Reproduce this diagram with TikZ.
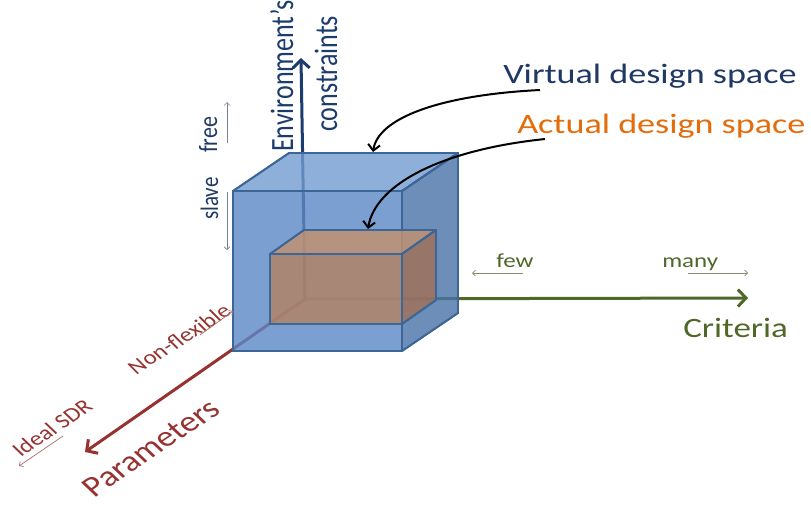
\documentclass[tikz,border=0pt]{standalone}
\usepackage{fontspec}
\setmainfont{Carlito}
\usetikzlibrary{arrows.meta}

\definecolor{navy}{RGB}{31,56,100}
\definecolor{axisblue}{RGB}{28,60,110}
\definecolor{axisgreen}{RGB}{79,104,40}
\definecolor{axisred}{RGB}{150,50,48}
\definecolor{actualorange}{RGB}{228,108,10}
\definecolor{boxedge}{RGB}{60,102,150}
\definecolor{outerfront}{RGB}{92,136,199}
\definecolor{outertop}{RGB}{115,156,211}
\definecolor{outerside}{RGB}{74,114,169}
\definecolor{innerfront}{RGB}{181,129,97}
\definecolor{innertop}{RGB}{196,145,107}
\definecolor{innerside}{RGB}{162,112,85}
\definecolor{hintblue}{RGB}{120,130,150}
\definecolor{hintred}{RGB}{170,110,100}
\definecolor{hintgreen}{RGB}{130,140,110}

\tikzset{
  axisline/.style={line width=3pt, -{Straight Barb[length=8pt,width=17pt]}},
  pointer/.style={line width=2pt, black, -{Straight Barb[length=6pt,width=12pt]}},
  hint/.style={line width=0.7pt, -{Straight Barb[length=3pt,width=6pt]}},
  face/.style={draw=boxedge, line width=1.8pt, line join=round, fill opacity=0.8},
  lbl/.style={inner sep=0pt},
}

\begin{document}
\begin{tikzpicture}[x=1pt,y=-1pt]
\useasboundingbox (0,0) rectangle (811,504);
\fill[white] (0,0) rectangle (811,504);

% axis end points
\coordinate (O) at (305,299);
\coordinate (Ztip) at (301,58);
\coordinate (Xtip) at (748,298);
\coordinate (Ptip) at (85,452);

% the three axes
\draw[axisline, axisblue] (O) -- (Ztip);
\draw[axisline, axisgreen] (O) -- (Xtip);
\draw[axisline, axisred] (O) -- (Ptip);

% virtual design space (outer box)
\fill[face, fill=outertop]  (233,191) -- (289,153) -- (458,153) -- (402,191) -- cycle;
\draw[boxedge, line width=1.8pt, line join=round] (233,191) -- (289,153) -- (458,153) -- (402,191) -- cycle;
\fill[face, fill=outerside] (402,191) -- (458,153) -- (458,313) -- (402,351) -- cycle;
\draw[boxedge, line width=1.8pt, line join=round] (402,191) -- (458,153) -- (458,313) -- (402,351) -- cycle;
\fill[face, fill=outerfront] (233,191) rectangle (402,351);
\draw[boxedge, line width=1.8pt] (233,191) rectangle (402,351);

% actual design space (inner box)
\fill[face, fill=innertop]  (270,254) -- (304,230) -- (436,230) -- (402,254) -- cycle;
\draw[boxedge, line width=1.8pt, line join=round] (270,254) -- (304,230) -- (436,230) -- (402,254) -- cycle;
\fill[face, fill=innerside] (402,254) -- (436,230) -- (436,300) -- (402,324) -- cycle;
\draw[boxedge, line width=1.8pt, line join=round] (402,254) -- (436,230) -- (436,300) -- (402,324) -- cycle;
\fill[face, fill=innerfront] (270,254) rectangle (402,324);
\draw[boxedge, line width=1.8pt] (270,254) rectangle (402,324);

% titles
\node[lbl, anchor=base west, text=navy, font=\fontsize{28}{34}\selectfont, xscale=1.29]
  (virtual) at (503,83) {Virtual design space};
\node[lbl, anchor=base west, text=actualorange, font=\fontsize{28}{34}\selectfont, xscale=1.29]
  (actual) at (517,133) {Actual design space};

% pointers to the two boxes
\coordinate (vstart) at (540,90);
\coordinate (vend) at (373,152);
\coordinate (astart) at (545,139);
\coordinate (aend) at (368,229);
\draw[pointer] (vstart) .. controls (440,95) and (378,118) .. (vend);
\draw[pointer] (astart) .. controls (440,150) and (375,185) .. (aend);

% axis names
\node[lbl, anchor=base west, text=axisblue, font=\fontsize{26}{30}\selectfont, xscale=1.25, rotate=90]
  (env1) at (293,152) {Environment’s};
\node[lbl, anchor=base west, text=axisblue, font=\fontsize{26}{30}\selectfont, xscale=1.25, rotate=90]
  (env2) at (337,132) {constraints};
\node[lbl, anchor=base west, text=axisgreen, font=\fontsize{28}{34}\selectfont, xscale=1.25]
  (criteria) at (683,337) {Criteria};
\node[lbl, text=axisred, font=\fontsize{29}{35}\selectfont, xscale=1.25, rotate=40]
  (params) at (151,448) {Parameters};

% scale hints along the axes
\node[lbl, anchor=base west, text=navy, font=\fontsize{22}{26}\selectfont, xscale=1.2, rotate=90]
  (free) at (217,153) {free};
\node[lbl, anchor=base west, text=navy, font=\fontsize{21}{25}\selectfont, xscale=1.2, rotate=90]
  (slave) at (218,220) {slave};
\coordinate (free1) at (227,143);
\coordinate (free2) at (227,102);
\coordinate (slave1) at (227,192);
\coordinate (slave2) at (227,250);
\draw[hint, hintblue] (free1) -- (free2);
\draw[hint, hintblue] (slave1) -- (slave2);

\node[lbl, anchor=base west, text=axisgreen, font=\fontsize{20}{24}\selectfont, xscale=1.25]
  (few) at (496,267) {few};
\node[lbl, anchor=base west, text=axisgreen, font=\fontsize{20}{24}\selectfont, xscale=1.25]
  (many) at (662,267) {many};
\coordinate (few1) at (523,273);
\coordinate (few2) at (472,273);
\coordinate (many1) at (688,273);
\coordinate (many2) at (748,273);
\draw[hint, hintgreen] (few1) -- (few2);
\draw[hint, hintgreen] (many1) -- (many2);

\node[lbl, text=axisred, font=\fontsize{20}{24}\selectfont, xscale=1.25, rotate=38.5]
  (nonflex) at (179,339) {Non-flexible};
\node[lbl, text=axisred, font=\fontsize{20}{24}\selectfont, xscale=1.25, rotate=40]
  (ideal) at (52,428) {Ideal SDR};
\coordinate (nf1) at (200,335);
\coordinate (nf2) at (233,311);
\coordinate (id1) at (63,436);
\coordinate (id2) at (19,466);
\draw[hint, hintred] (nf1) -- (nf2);
\draw[hint, hintred] (id1) -- (id2);
\end{tikzpicture}
\end{document}
